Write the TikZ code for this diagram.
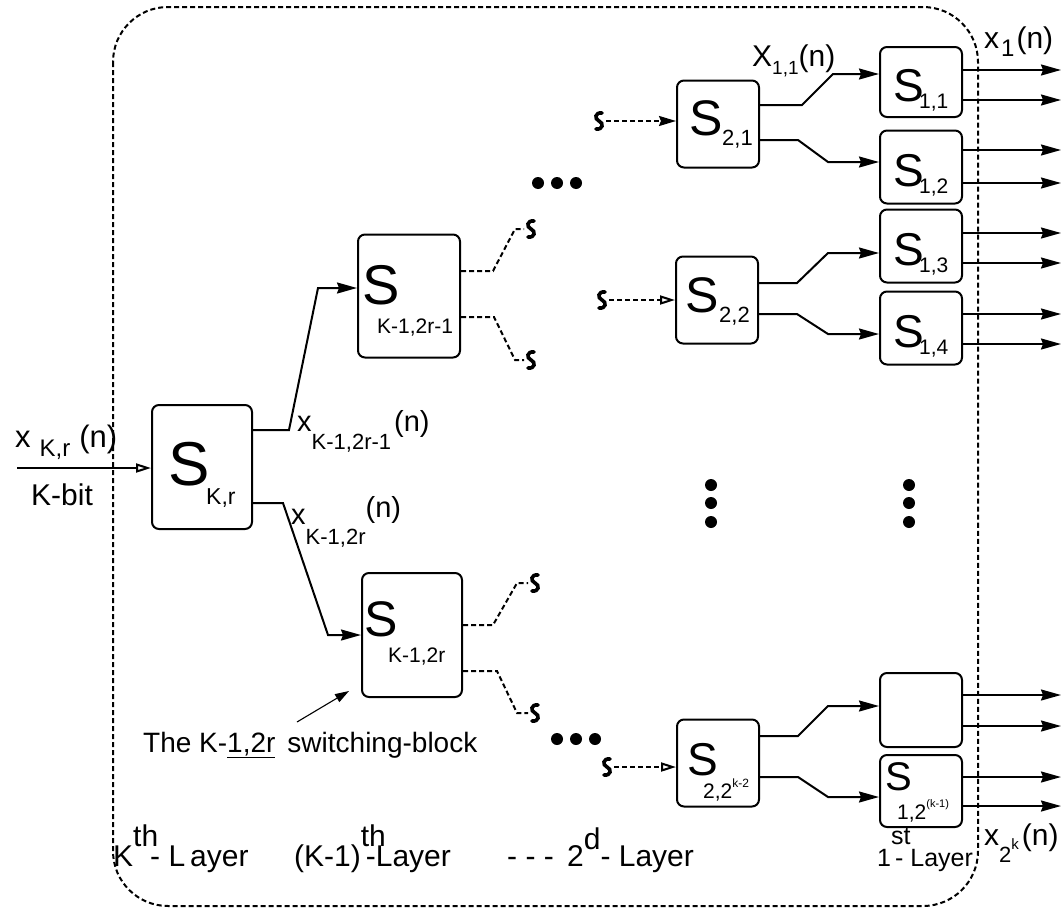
\documentclass[tikz,border=0pt]{standalone}
\usepackage{fontspec}
\setmainfont{Liberation Sans}
\usetikzlibrary{arrows.meta,calc}
\newcommand\fsz[1]{\fontsize{#1}{#1}\selectfont}
\tikzset{
  swbox/.style={draw,line width=2pt,rounded corners=7pt,inner sep=0pt},
  flow/.style={-{Stealth[length=20pt,width=11pt,inset=2pt]},line width=2pt},
  inflow/.style={-{Triangle[open,length=15pt,width=9pt]},line width=2pt},
  dline/.style={line width=2pt,dash pattern=on 5pt off 3pt},
  noteflow/.style={-{Triangle[length=14pt,width=9pt]},line width=1.1pt},
  lbl/.style={inner sep=0pt,anchor=base west,font=\fsz{29}},
  bigS/.style={lbl,font=\fsz{#1}},
  subl/.style={lbl,font=\fsz{21}},
  layl/.style={lbl,font=\fsz{30}},
  brk/.pic={\draw[line width=3.6pt,line cap=round] (3,-8) .. controls (-4,-9) and (-5,-2) .. (0,0)
      .. controls (5,2) and (4,9) .. (-3,8);}
}

\begin{document}
\begin{tikzpicture}[x=1pt,y=-1pt]
  \useasboundingbox (0,0) rectangle (1063,910);
  % outer frame
  \draw[line width=2pt,dash pattern=on 5pt off 3pt,rounded corners=55pt] (113,7) rectangle (978,906);

  % switching blocks
  \node[swbox,minimum width=100pt,minimum height=124pt] (kr) at (202,467) {};
  \node[swbox,minimum width=102pt,minimum height=123pt] (ka) at (409,296) {};
  \node[swbox,minimum width=100pt,minimum height=124pt] (kb) at (412,635) {};
  \node[swbox,minimum width=82pt,minimum height=87pt] (s21) at (718,124) {};
  \node[swbox,minimum width=82pt,minimum height=87pt] (s22) at (717,300) {};
  \node[swbox,minimum width=82pt,minimum height=87pt] (s2k) at (718,763) {};
  \node[swbox,minimum width=82pt,minimum height=70pt] (s11) at (921,82) {};
  \node[swbox,minimum width=82pt,minimum height=73pt] (s12) at (921,167) {};
  \node[swbox,minimum width=82pt,minimum height=73pt] (s13) at (921,246) {};
  \node[swbox,minimum width=82pt,minimum height=73pt] (s14) at (921,328) {};
  \node[swbox,minimum width=82pt,minimum height=74pt] (s1e) at (921,710) {};
  \node[swbox,minimum width=82pt,minimum height=72pt] (s1k) at (921,791) {};

  % block names
  \node[bigS=62] (kr-S) at (168,485) {S};
  \node[subl,font=\fsz{23}] (kr-i) at (206,504) {K,r};
  \node[bigS=56] (ka-S) at (362,304) {S};
  \node[subl] (ka-i) at (377,333) {K-1,2r-1};
  \node[bigS=50] (kb-S) at (364,636) {S};
  \node[subl] (kb-i) at (388,662) {K-1,2r};
  \node[bigS=50] (s21-S) at (689,135) {S};
  \node[subl,font=\fsz{22}] (s21-i) at (722,145) {2,1};
  \node[bigS=50] (s22-S) at (685,312) {S};
  \node[subl,font=\fsz{22}] (s22-i) at (719,322) {2,2};
  \node[bigS=46] (s2k-S) at (687,775) {S};
  \node[subl] (s2k-i) at (703,798) {2,2\raisebox{11pt}{\fsz{12}k-2}};
  \foreach \b/\t in {s11/1,s12/2,s13/3,s14/4}{
    \node[bigS=46] (\b-S) at ([xshift=-28pt,yshift=-19pt]\b.center) {S};
    \node[subl] (\b-i) at ([xshift=-2pt,yshift=-26pt]\b.center) {1,\t};
  }
  \node[bigS=40] (s1k-S) at (885,790) {S};
  \node[subl] (s1k-i) at (897,819) {1,2\raisebox{12pt}{\fsz{11}(k-1)}};

  % input
  \coordinate (in) at (17,468);
  \draw[inflow] (in) -- (kr.west |- in);
  \node[lbl,font=\fsz{31}] (xkr) at (15,447) {x\hspace{9pt}\raisebox{-9pt}{\fsz{24}K,r}\hspace{9pt}(n)};
  \node[lbl,font=\fsz{30}] (kbit) at (31,505) {K-bit};

  % K-th layer outputs
  \draw[flow] ([yshift=37pt]kr.east) -- ++(36,0) -- (318,288) -- (ka.west |- 0,288);
  \draw[flow] ([yshift=-36pt]kr.east) -- ++(30,0) -- (328,635) -- (kb.west |- 0,635);
  \node[lbl] (xa) at (297,431) {x\raisebox{-18pt}{\fsz{22}K-1,2r-1}\hspace{3pt}(n)};
  \node[lbl] (xb) at (291,524) {x\raisebox{-20pt}{\fsz{22}K-1,2r}\raisebox{7pt}{(n)}};

  % (K-1)-th layer stubs
  \coordinate (ka-t) at (524,229);
  \coordinate (ka-b) at (524,360);
  \coordinate (kb-t) at (528,583);
  \coordinate (kb-b) at (528,713);
  \draw[dline] (ka.east |- 0,271) -- (493,271) -- (515,229) -- (ka-t);
  \draw[dline] (ka.east |- 0,317) -- (494,317) -- (515,360) -- (ka-b);
  \draw[dline] (kb.east |- 0,625) -- (493,625) -- (517,583) -- (kb-t);
  \draw[dline] (kb.east |- 0,671) -- (497,671) -- (517,713) -- (kb-b);
  \pic at ([xshift=7pt]ka-t) {brk};
  \pic at ([xshift=7pt]ka-b) {brk};
  \pic at ([xshift=7pt]kb-t) {brk};
  \pic at ([xshift=7pt]kb-b) {brk};

  % note
  \node[lbl,font=\fsz{28}] (note) at (143,752) {The K-\underline{1,2r}\hspace{12pt}switching-block};
  \coordinate (nt) at (297,722);
  \draw[noteflow] (nt) -- ([xshift=-12pt,yshift=-56pt]kb.west);

  % dots
  \foreach \x in {538,557,576} \fill (\x,183) circle (6);
  \foreach \x in {557,576,595} \fill (\x,739) circle (6);
  \foreach \y in {485,503,522} {\fill (711,\y) circle (6); \fill (909,\y) circle (6);}

  % 2nd layer inputs
  \coordinate (i21) at (606,121);
  \coordinate (i22) at (609,300);
  \coordinate (i2k) at (614,767);
  \draw[dline,-{Stealth[length=17pt,width=10pt,inset=2pt]}] (i21) -- (s21.west |- i21);
  \draw[dline,-{Triangle[open,length=15pt,width=9pt]}] (i22) -- (s22.west |- i22);
  \draw[dline,-{Triangle[open,length=15pt,width=9pt]}] (i2k) -- (s2k.west |- i2k);
  \pic at ([xshift=-7pt]i21) {brk};
  \pic at ([xshift=-7pt]i22) {brk};
  \pic at ([xshift=-7pt]i2k) {brk};

  % 2nd layer outputs
  \draw[flow] (s21.east |- 0,105) -- (802,105) -- (833,74) -- (s11.west |- 0,74);
  \draw[flow] (s21.east |- 0,140) -- (798,140) -- (828,162) -- (s12.west |- 0,162);
  \draw[flow] (s22.east |- 0,283) -- (797,283) -- (828,253) -- (s13.west |- 0,253);
  \draw[flow] (s22.east |- 0,314) -- (797,314) -- (828,334) -- (s14.west |- 0,334);
  \draw[flow] (s2k.east |- 0,736) -- (798,736) -- (828,706) -- (s1e.west |- 0,706);
  \draw[flow] (s2k.east |- 0,777) -- (798,777) -- (828,797) -- (s1k.west |- 0,797);
  \node[lbl,font=\fsz{30}] (x11) at (752,66) {X\raisebox{-8pt}{\fsz{19}1,1}(n)};

  % 1st layer outputs
  \coordinate (out) at (1061,0);
  \foreach \b/\ya/\yb in {s11/70/100,s12/150/183,s13/233/263,s14/314/344,s1e/695/726,s1k/777/806}{
    \draw[flow] (\b.east |- 0,\ya) -- (out |- 0,\ya);
    \draw[flow] (\b.east |- 0,\yb) -- (out |- 0,\yb);
  }
  \node[lbl,font=\fsz{30}] (x1) at (984,48) {x\hspace{2pt}\raisebox{-9pt}{\fsz{24}1}\hspace{2pt}(n)};
  \node[lbl,font=\fsz{30}] (x2k) at (984,845) {x\raisebox{-17pt}{\fsz{22}2}\raisebox{-4pt}{\fsz{15}k}\hspace{3pt}(n)};

  % layer names
  \node[layl] (lk) at (113,866) {K\rlap{\raisebox{20pt}{th}}\hspace{17pt}- L\hspace{5pt}ayer};
  \node[layl] (lk1) at (294,866) {(K-1)\raisebox{20pt}{th}\hspace{-20pt}-Layer};
  \node[layl] (ldots) at (507,866) {- - -};
  \node[layl] (l2) at (567,866) {2\raisebox{17pt}{d}- Layer};
  \node[layl,font=\fsz{25}] (l1) at (877,866) {1\rlap{\raisebox{22pt}{st}}\hspace{4pt}- Layer};
\end{tikzpicture}
\end{document}
